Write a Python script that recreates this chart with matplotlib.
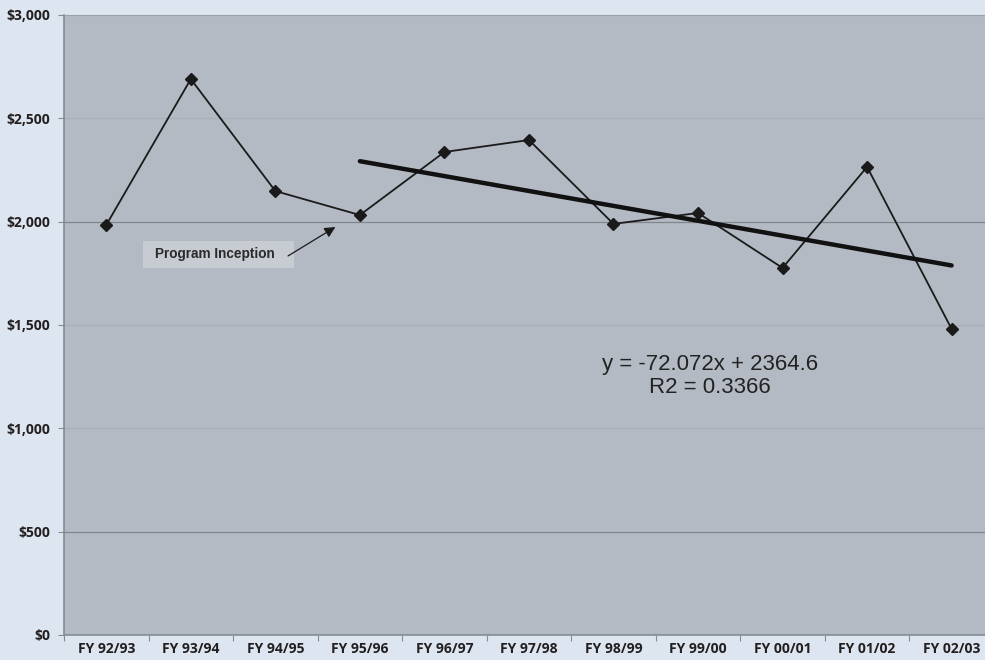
import numpy as np
import matplotlib
matplotlib.use("Agg")
import matplotlib.pyplot as plt
from matplotlib.patches import Rectangle
from matplotlib.ticker import FuncFormatter

# fiscal years and average values
years = ["FY 92/93", "FY 93/94", "FY 94/95", "FY 95/96", "FY 96/97", "FY 97/98",
         "FY 98/99", "FY 99/00", "FY 00/01", "FY 01/02", "FY 02/03"]
values = [1984, 2690, 2148, 2032, 2337, 2395, 1989, 2042, 1776, 2265, 1481]

# linear trend fitted from program inception (FY 95/96) on
trend_start = 3
slope = -72.072
intercept = 2364.6
r2 = 0.3366

fig_bg = "#dde6f0"
plot_bg = "#b4bac4"
axis_col = "#858b93"
text_col = "#231f20"

fig = plt.figure(figsize=(9.85, 6.6), dpi=100)
fig.patch.set_facecolor(fig_bg)
ax = fig.add_axes([0.065, 0.0379, 0.944, 0.9394])
ax.set_facecolor(plot_bg)

x = np.arange(len(years))
ax.plot(x, values, color="#1a1a1a", lw=1.3, marker="D", ms=6, mfc="#1a1a1a", mec="#1a1a1a", zorder=3)

tx = np.arange(1, len(years) - trend_start + 1)
ax.plot(tx + trend_start - 1, slope * tx + intercept, color="#111111", lw=3.2,
        solid_capstyle="round", zorder=4)

ax.text(7.14, 1253, "y = %.3fx + %.1f\nR2 = %.4f" % (slope, intercept, r2),
        ha="center", va="center", fontsize=16, family="Liberation Sans",
        color="#222222", linespacing=1.15, multialignment="center")

# annotation box
ax.add_patch(Rectangle((0.437, 1776), 2.22 - 0.437, 1906 - 1776, fc="#c7cbd2",
                       ec="none", zorder=5))
ax.text(1.29, 1844, "Program Inception", ha="center", va="center", fontsize=9.8,
        fontweight="bold", family="Liberation Sans", color="#2a2a2a", zorder=6)
ax.annotate("", xy=(2.71, 1974), xytext=(2.15, 1834),
            arrowprops=dict(arrowstyle="-|>", color="#1a1a1a", lw=0.9,
                            mutation_scale=16, shrinkA=0, shrinkB=0), zorder=6)

ax.set_ylim(0, 3000)
ax.set_xlim(-0.5, len(years) - 0.5)
ax.set_yticks(np.arange(0, 3001, 500))
ax.yaxis.set_major_formatter(FuncFormatter(lambda v, p: "${:,.0f}".format(v)))

for yv in [500, 2000]:
    ax.axhline(yv, color="#80868e", lw=0.9, zorder=1)
for yv in [1000, 1500, 2500]:
    ax.axhline(yv, color="#aab0ba", lw=0.9, zorder=1)

ax.set_xticks(np.arange(-0.5, len(years), 1))
ax.set_xticklabels([])
ax.set_xticks(x, minor=True)
ax.set_xticklabels(years, minor=True)
ax.tick_params(axis="x", which="major", length=4, color=axis_col, direction="out")
ax.tick_params(axis="x", which="minor", length=0, pad=5)
ax.tick_params(axis="y", length=4, color=axis_col, pad=6)

for lab in ax.get_xticklabels(minor=True) + ax.get_yticklabels():
    lab.set_fontfamily("Open Sans")
    lab.set_fontweight("bold")
    lab.set_fontsize(10)
    lab.set_color(text_col)

for s in ["left", "bottom"]:
    ax.spines[s].set_color(axis_col)
    ax.spines[s].set_linewidth(1.2)
ax.spines["top"].set_color("#9aa0a8")
ax.spines["top"].set_linewidth(0.8)
ax.spines["right"].set_visible(False)

fig.savefig("out.png", dpi=100, facecolor=fig_bg)
